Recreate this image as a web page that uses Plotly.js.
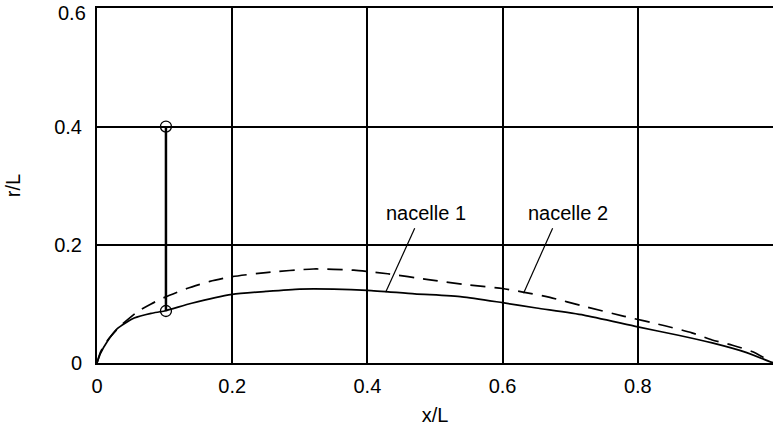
<!DOCTYPE html>
<html>
<head>
<meta charset="utf-8">
<script src="https://cdn.plot.ly/plotly-3.0.1.min.js"></script>
<style>
html,body{margin:0;padding:0;background:#fff;overflow:hidden;}
#chart{width:773px;height:428px;}
</style>
</head>
<body>
<div id="chart"></div>
<script>
// nacelle 1 (solid) profile, r/L vs x/L
const xNacelle1 = [0, 0.005, 0.015, 0.03, 0.055, 0.08, 0.1, 0.14, 0.2, 0.25, 0.3, 0.35, 0.4, 0.47, 0.54, 0.6, 0.65, 0.72, 0.8, 0.86, 0.91, 0.96, 1.0];
const yNacelle1 = [0, 0.016, 0.036, 0.058, 0.076, 0.084, 0.088, 0.101, 0.116, 0.121, 0.125, 0.125, 0.123, 0.117, 0.112, 0.102, 0.093, 0.081, 0.061, 0.047, 0.034, 0.018, 0];
// nacelle 2 (dashed) profile
const xNacelle2 = [0, 0.005, 0.016, 0.034, 0.06, 0.08, 0.1, 0.133, 0.167, 0.2, 0.25, 0.32, 0.38, 0.43, 0.49, 0.55, 0.6, 0.63, 0.67, 0.72, 0.78, 0.84, 0.88, 0.91, 0.94, 0.97, 1.0];
const yNacelle2 = [0, 0.018, 0.039, 0.062, 0.087, 0.1, 0.111, 0.126, 0.138, 0.146, 0.153, 0.159, 0.157, 0.151, 0.141, 0.132, 0.126, 0.12, 0.111, 0.096, 0.079, 0.063, 0.051, 0.039, 0.03, 0.019, 0];
// vertical marker segment
const xSegment = [0.102, 0.102];
const ySegment = [0.088, 0.4];
// ticks
const xTickVals = [0, 0.2, 0.4, 0.6, 0.8];
const xTickText = ['0', '0.2', '0.4', '0.6', '0.8'];
const yTickVals = [0, 0.2, 0.4, 0.6];
const yTickText = ['0', '0.2', '0.4', ''];
const yTopLabel = '0.6';
const yTopValue = 0.6;
// labels
const labelNames = ['nacelle 1', 'nacelle 2'];

const FONT = 'Liberation Sans, Arial, Helvetica, sans-serif';
const FS = 20;

const traces = [
  {x: xNacelle1, y: yNacelle1, mode: 'lines', line: {color: '#000', width: 1.7, shape: 'spline', smoothing: 0.6}, hoverinfo: 'skip'},
  {x: xNacelle2, y: yNacelle2, mode: 'lines', line: {color: '#000', width: 1.7, dash: '15px,9px', shape: 'spline', smoothing: 0.6}, hoverinfo: 'skip'},
  {x: xSegment, y: ySegment, mode: 'lines+markers', line: {color: '#000', width: 2.5},
   marker: {symbol: 'circle-open', size: 11, color: '#000', line: {width: 1.3, color: '#000'}}, hoverinfo: 'skip'}
];

const layout = {
  width: 773, height: 428,
  margin: {l: 97, r: 0, t: 8, b: 65},
  paper_bgcolor: '#fff', plot_bgcolor: '#fff',
  showlegend: false,
  font: {family: FONT, size: FS, color: '#000'},
  xaxis: {
    range: [0, 1], tickvals: xTickVals, ticktext: xTickText,
    showgrid: true, gridcolor: '#000', gridwidth: 2,
    showline: true, linecolor: '#000', linewidth: 2, mirror: true,
    zeroline: false, ticks: 'outside', ticklen: 4, tickcolor: 'rgba(0,0,0,0)',
    tickfont: {family: FONT, size: FS, color: '#000'},
    title: {text: 'x/L', font: {family: FONT, size: FS, color: '#000'}, standoff: 12}
  },
  yaxis: {
    range: [0, 0.6005], tickvals: yTickVals, ticktext: yTickText,
    showgrid: true, gridcolor: '#000', gridwidth: 2,
    showline: true, linecolor: '#000', linewidth: 2, mirror: false,
    zeroline: false, ticks: 'outside', ticklen: 9, tickcolor: 'rgba(0,0,0,0)',
    tickfont: {family: FONT, size: FS, color: '#000'},
    title: {text: 'r/L', font: {family: FONT, size: FS, color: '#000'}, standoff: 28}
  },
  annotations: [
    {x: 0.486, y: 0.253, xref: 'x', yref: 'y', text: labelNames[0], showarrow: false, font: {family: FONT, size: FS, color: '#000'}},
    {x: 0.697, y: 0.253, xref: 'x', yref: 'y', text: labelNames[1], showarrow: false, font: {family: FONT, size: FS, color: '#000'}},
    {x: 0, y: yTopValue, xref: 'paper', yref: 'y', text: yTopLabel, showarrow: false, xanchor: 'right', yanchor: 'middle',
     xshift: -9, yshift: -5, font: {family: FONT, size: FS, color: '#000'}}
  ],
  shapes: [
    {type: 'line', xref: 'x', yref: 'y', x0: 0.470, y0: 0.228, x1: 0.427, y1: 0.1195, line: {color: '#000', width: 1.2}},
    {type: 'line', xref: 'x', yref: 'y', x0: 0.674, y0: 0.228, x1: 0.631, y1: 0.118, line: {color: '#000', width: 1.2}}
  ]
};

Plotly.newPlot('chart', traces, layout, {staticPlot: true, displayModeBar: false});
</script>
</body>
</html>
